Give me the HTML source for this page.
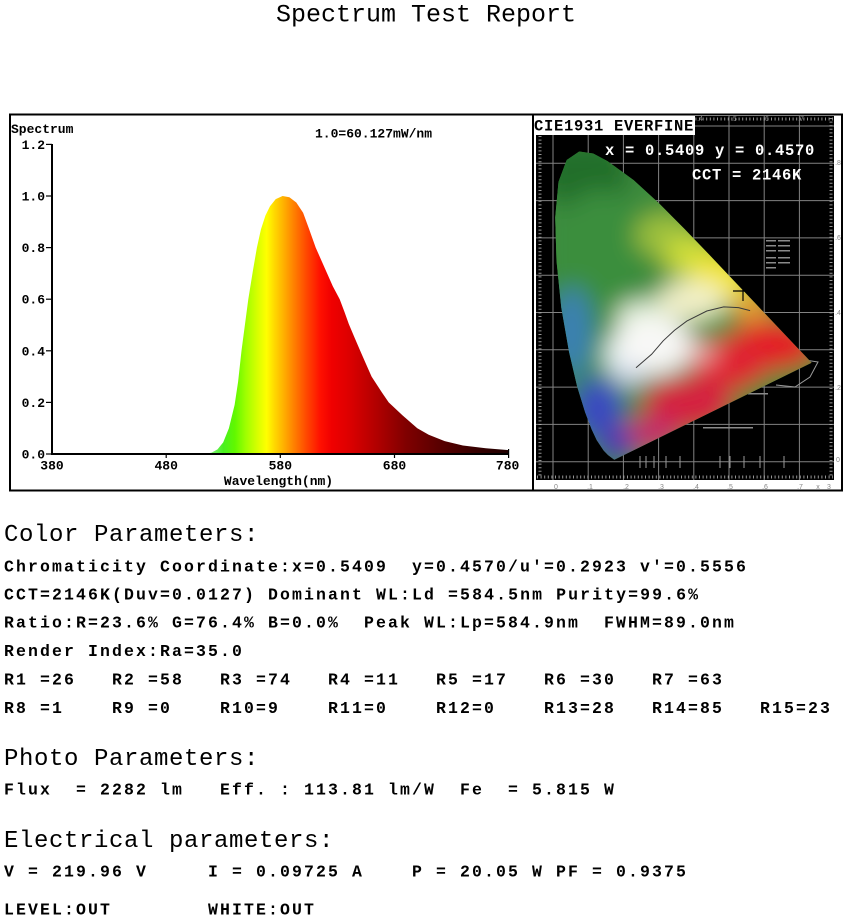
<!DOCTYPE html>
<html><head><meta charset="utf-8"><style>
html,body{margin:0;padding:0;background:#fff;}
svg{display:block;}
.t{font-family:"Liberation Mono",monospace;}
.b{font-family:"Liberation Mono",monospace;font-weight:bold;font-size:16.5px;letter-spacing:2.1px;fill:#000;}
.h{font-family:"Liberation Mono",monospace;font-size:24px;letter-spacing:0.6px;fill:#000;}
.ax{font-family:"Liberation Mono",monospace;font-weight:bold;font-size:13px;fill:#000;}
.cw{font-family:"Liberation Mono",monospace;font-weight:bold;font-size:15.5px;letter-spacing:0.7px;fill:#fff;}
.sm{font-family:"Liberation Sans",sans-serif;font-size:7px;fill:#888;}
</style></head><body>
<svg width="844" height="922" viewBox="0 0 844 922" xmlns="http://www.w3.org/2000/svg">
<defs>
<linearGradient id="spec" gradientUnits="userSpaceOnUse" x1="52" y1="0" x2="508.6" y2="0">
<stop offset="0.3375" stop-color="#b0f0a8"/>
<stop offset="0.355" stop-color="#70f060"/>
<stop offset="0.375" stop-color="#48f020"/>
<stop offset="0.40" stop-color="#60f800"/>
<stop offset="0.425" stop-color="#a0ff00"/>
<stop offset="0.45" stop-color="#d8ff00"/>
<stop offset="0.47" stop-color="#ffff00"/>
<stop offset="0.4875" stop-color="#ffd800"/>
<stop offset="0.5075" stop-color="#ffb000"/>
<stop offset="0.53" stop-color="#ff8000"/>
<stop offset="0.5575" stop-color="#ff4800"/>
<stop offset="0.5875" stop-color="#ff1000"/>
<stop offset="0.6125" stop-color="#f00000"/>
<stop offset="0.65" stop-color="#dd0000"/>
<stop offset="0.7125" stop-color="#b00000"/>
<stop offset="0.775" stop-color="#800000"/>
<stop offset="0.85" stop-color="#580000"/>
<stop offset="0.925" stop-color="#380000"/>
<stop offset="1" stop-color="#200000"/>
</linearGradient>
<clipPath id="hs"><path d="M614.3,459.8 L608.1,455.1 L603.7,450.6 L596.7,440.1 L591.6,429.3 L585.1,412.2 L577.2,386.8 L569,351.7 L561.3,307.8 L556.5,260.9 L555.2,217.5 L558.5,181.9 L566.7,160 L579.2,151.5 L593.2,153.5 L607.5,161.1 L633.8,180.3 L659.2,203.5 L684.3,228.8 L709.3,254.8 L733.4,280.2 L755.5,303.5 L773.7,322.8 L796.4,346.7 L806.1,356.9 L811.6,362.7 Z"/></clipPath>
<filter id="bl" filterUnits="userSpaceOnUse" x="500" y="100" width="344" height="420"><feGaussianBlur stdDeviation="12"/></filter>
</defs>

<!-- Title -->
<text class="t" x="276" y="21.5" font-size="25" fill="#000">Spectrum Test Report</text>

<!-- Spectrum panel -->
<rect x="10" y="114" width="523" height="377" fill="#fff"/>
<polygon fill="url(#spec)" points="206.1,454 211.8,452.5 217.5,449.4 223.2,442.4 228.9,428.2 234.6,405 238.1,381.8 241.5,350.8 244.9,325 248.3,299.2 252.9,270.8 256.9,247.6 260.9,229.5 265.5,215.4 270,206.3 275.7,199.1 282.6,196 289.4,197.3 296.3,202.5 303.1,212.8 308.8,228.3 315.7,247.6 321.4,260.5 327.1,273.4 332.8,286.3 339.7,299.2 344.5,312 348.8,324 354.5,337.5 360.2,350.8 366,364 371.6,376.6 380.8,390.8 388.7,402.4 402.4,415.3 417.3,428.2 428.7,434.7 444.7,441.1 462.9,445.5 485.8,448.3 508.6,450.1 508.6,454"/>
<line x1="52" y1="144" x2="52" y2="455" stroke="#000" stroke-width="2"/>
<line x1="51" y1="454" x2="509" y2="454" stroke="#000" stroke-width="2"/>
<g stroke="#000" stroke-width="1.2">
<line x1="46" y1="144.4" x2="52" y2="144.4"/>
<line x1="46" y1="196" x2="52" y2="196"/>
<line x1="46" y1="247.6" x2="52" y2="247.6"/>
<line x1="46" y1="299.2" x2="52" y2="299.2"/>
<line x1="46" y1="350.8" x2="52" y2="350.8"/>
<line x1="46" y1="402.4" x2="52" y2="402.4"/>
<line x1="46" y1="454" x2="52" y2="454"/>
<line x1="166.2" y1="454" x2="166.2" y2="458"/>
<line x1="280.3" y1="454" x2="280.3" y2="458"/>
<line x1="394.5" y1="454" x2="394.5" y2="458"/>
<line x1="508.6" y1="449" x2="508.6" y2="458"/>
</g>
<g class="ax" text-anchor="end">
<text x="45" y="149">1.2</text>
<text x="45" y="200.5">1.0</text>
<text x="45" y="252">0.8</text>
<text x="45" y="303.7">0.6</text>
<text x="45" y="355.3">0.4</text>
<text x="45" y="407">0.2</text>
<text x="45" y="458.5">0.0</text>
</g>
<g class="ax" text-anchor="middle">
<text x="52" y="469.5">380</text>
<text x="166.2" y="469.5">480</text>
<text x="280.3" y="469.5">580</text>
<text x="394.5" y="469.5">680</text>
<text x="507.6" y="469.5">780</text>
</g>
<text class="ax" x="278.5" y="485" font-size="13.5" text-anchor="middle">Wavelength(nm)</text>
<text class="ax" x="11" y="133" font-size="13.3">Spectrum</text>
<text class="ax" x="315" y="137.5" font-size="13.5">1.0=60.127mW/nm</text>

<!-- CIE panel -->
<rect x="533" y="114" width="309" height="377" fill="#fff"/>
<rect x="536" y="116" width="298" height="364" fill="#000"/>
<g stroke="#9a9a9a" stroke-width="1" opacity="0.85">
<line x1="553" y1="116" x2="553" y2="480"/>
<line x1="588.2" y1="116" x2="588.2" y2="480"/>
<line x1="623.4" y1="116" x2="623.4" y2="480"/>
<line x1="658.6" y1="116" x2="658.6" y2="480"/>
<line x1="693.8" y1="116" x2="693.8" y2="480"/>
<line x1="729" y1="116" x2="729" y2="480"/>
<line x1="764.2" y1="116" x2="764.2" y2="480"/>
<line x1="799.4" y1="116" x2="799.4" y2="480"/>
<line x1="536" y1="461.7" x2="834" y2="461.7"/>
<line x1="536" y1="424.4" x2="834" y2="424.4"/>
<line x1="536" y1="387.1" x2="834" y2="387.1"/>
<line x1="536" y1="349.8" x2="834" y2="349.8"/>
<line x1="536" y1="312.5" x2="834" y2="312.5"/>
<line x1="536" y1="275.2" x2="834" y2="275.2"/>
<line x1="536" y1="237.9" x2="834" y2="237.9"/>
<line x1="536" y1="200.6" x2="834" y2="200.6"/>
<line x1="536" y1="163.3" x2="834" y2="163.3"/>
<line x1="536" y1="126" x2="834" y2="126"/>
</g>
<g stroke="#bbb" stroke-width="3" stroke-dasharray="1 2.6" opacity="0.8">
<line x1="540" y1="118" x2="540" y2="478"/>
<line x1="831" y1="118" x2="831" y2="478"/>
<line x1="537" y1="477" x2="833" y2="477"/>
<line x1="537" y1="119" x2="833" y2="119"/>
</g>
<g fill="#8a8a8a">
<rect x="766" y="240" width="10" height="1.5"/><rect x="778" y="240" width="12" height="1.5"/>
<rect x="766" y="245" width="10" height="1.5"/><rect x="778" y="245" width="12" height="1.5"/>
<rect x="766" y="250" width="10" height="1.5"/><rect x="778" y="250" width="12" height="1.5"/>
<rect x="766" y="257" width="10" height="1.5"/><rect x="778" y="257" width="12" height="1.5"/>
<rect x="766" y="262" width="10" height="1.5"/><rect x="778" y="262" width="12" height="1.5"/>
<rect x="766" y="267" width="10" height="1.5"/>
<rect x="703" y="427" width="50" height="1.5"/>
<rect x="748" y="393" width="20" height="1.5"/>
</g>
<g stroke="#9a9a9a" stroke-width="1" fill="none">
<polyline points="792,358 818,362 810,377 795,387 776,385"/>
<polyline points="720,456 720,468"/><polyline points="730,456 730,468"/><polyline points="744,456 744,468"/><polyline points="760,456 760,468"/><polyline points="784,456 784,468"/>
<polyline points="640,456 640,468"/><polyline points="646,456 646,468"/><polyline points="654,456 654,468"/><polyline points="666,456 666,468"/><polyline points="680,456 680,468"/>
</g>
<!-- horseshoe -->
<g clip-path="url(#hs)">
<rect x="540" y="140" width="290" height="330" fill="#3c8c3c"/>
<g filter="url(#bl)">
<rect x="540" y="140" width="290" height="330" fill="#3c8c3c"/>
<ellipse cx="585" cy="175" rx="45" ry="35" fill="#236e2a"/>
<ellipse cx="600" cy="245" rx="42" ry="55" fill="#3a8e3c"/>
<ellipse cx="665" cy="235" rx="30" ry="22" fill="#9cc03c"/>
<ellipse cx="692" cy="256" rx="28" ry="20" fill="#cede3a"/>
<ellipse cx="720" cy="278" rx="32" ry="24" fill="#f2e430"/>
<ellipse cx="752" cy="307" rx="18" ry="14" fill="#f5a032"/>
<ellipse cx="692" cy="300" rx="35" ry="20" fill="#f2f0c8"/>
<ellipse cx="642" cy="316" rx="26" ry="16" fill="#dcecd0"/>
<ellipse cx="772" cy="345" rx="45" ry="25" fill="#e41e26"/>
<ellipse cx="730" cy="364" rx="38" ry="26" fill="#e02030"/>
<ellipse cx="688" cy="404" rx="45" ry="28" fill="#d42040"/>
<ellipse cx="650" cy="434" rx="30" ry="18" fill="#c42a6a"/>
<ellipse cx="598" cy="408" rx="25" ry="30" fill="#3a48c0"/>
<ellipse cx="615" cy="444" rx="18" ry="18" fill="#5038b0"/>
<ellipse cx="572" cy="332" rx="20" ry="45" fill="#3a80b4"/>
<ellipse cx="618" cy="356" rx="14" ry="20" fill="#d8eaf0"/>
<ellipse cx="700" cy="352" rx="16" ry="12" fill="#eaa0a0"/>
<ellipse cx="652" cy="345" rx="40" ry="30" fill="#f8f8f6"/>
<ellipse cx="630" cy="375" rx="14" ry="12" fill="#d0d8ec"/>
</g>
<polyline fill="none" stroke="#3a3a3a" stroke-width="1" points="636,367.7 651.6,354.3 663.2,340.8 674.4,330.4 686.8,321.1 706.8,311 723.7,306.9 738.5,307.6 750.1,310.6"/>
</g>
<g stroke="#000" stroke-width="1.2">
<line x1="733" y1="291" x2="753" y2="291"/>
<line x1="743" y1="281" x2="743" y2="301"/>
</g>
<g class="sm" text-anchor="middle">
<text x="556" y="489">0</text><text x="590" y="489">.1</text><text x="626" y="489">.2</text><text x="661" y="489">.3</text><text x="696" y="489">.4</text><text x="730" y="489">.5</text><text x="765" y="489">.6</text><text x="800" y="489">.7</text><text x="818" y="489">x</text><text x="829" y="489">3</text>
<text x="838" y="165">.8</text><text x="838" y="240">.6</text><text x="838" y="315">.4</text><text x="838" y="390">.2</text><text x="838" y="462">0</text>
<text x="734" y="121">.5</text><text x="766" y="121">.6</text><text x="801" y="121">.7</text><text x="700" y="121">.4</text>
</g>
<rect x="533" y="115" width="162" height="20" fill="#fff"/>
<text class="t" x="534" y="130.5" font-size="15.5" font-weight="bold" letter-spacing="0.7" fill="#000">CIE1931 EVERFINE</text>
<text class="cw" x="605" y="155">x = 0.5409 y = 0.4570</text>
<text class="cw" x="692" y="179.5">CCT = 2146K</text>

<rect x="10" y="114.5" width="832" height="376" fill="none" stroke="#000" stroke-width="2"/>
<line x1="533" y1="114" x2="533" y2="491" stroke="#000" stroke-width="2"/>

<!-- Color parameters -->
<text class="h" x="4" y="541">Color Parameters:</text>
<text class="b" x="4" y="571.7">Chromaticity Coordinate:x=0.5409</text>
<text class="b" x="412" y="571.7">y=0.4570/u'=0.2923</text>
<text class="b" x="640" y="571.7">v'=0.5556</text>
<text class="b" x="4" y="599.5">CCT=2146K(Duv=0.0127) Dominant WL:Ld =584.5nm Purity=99.6%</text>
<text class="b" x="4" y="627.7">Ratio:R=23.6% G=76.4% B=0.0%</text>
<text class="b" x="364" y="627.7">Peak WL:Lp=584.9nm</text>
<text class="b" x="604" y="627.7">FWHM=89.0nm</text>
<text class="b" x="4" y="656">Render Index:Ra=35.0</text>
<g class="b">
<text x="4" y="684.3">R1 =26</text><text x="112" y="684.3">R2 =58</text><text x="220" y="684.3">R3 =74</text><text x="328" y="684.3">R4 =11</text><text x="436" y="684.3">R5 =17</text><text x="544" y="684.3">R6 =30</text><text x="652" y="684.3">R7 =63</text>
<text x="4" y="713">R8 =1</text><text x="112" y="713">R9 =0</text><text x="220" y="713">R10=9</text><text x="328" y="713">R11=0</text><text x="436" y="713">R12=0</text><text x="544" y="713">R13=28</text><text x="652" y="713">R14=85</text><text x="760" y="713">R15=23</text>
</g>

<!-- Photo parameters -->
<text class="h" x="4" y="765">Photo Parameters:</text>
<g class="b">
<text x="4" y="794.5">Flux</text><text x="76" y="794.5">= 2282 lm</text><text x="220" y="794.5">Eff. : 113.81 lm/W</text><text x="460" y="794.5">Fe</text><text x="508" y="794.5">= 5.815 W</text>
</g>

<!-- Electrical parameters -->
<text class="h" x="4" y="847">Electrical parameters:</text>
<g class="b">
<text x="4" y="876.5">V = 219.96 V</text><text x="208" y="876.5">I = 0.09725 A</text><text x="412" y="876.5">P = 20.05 W PF = 0.9375</text>
<text x="4" y="914.5">LEVEL:OUT</text><text x="208" y="914.5">WHITE:OUT</text>
</g>
</svg>
</body></html>
